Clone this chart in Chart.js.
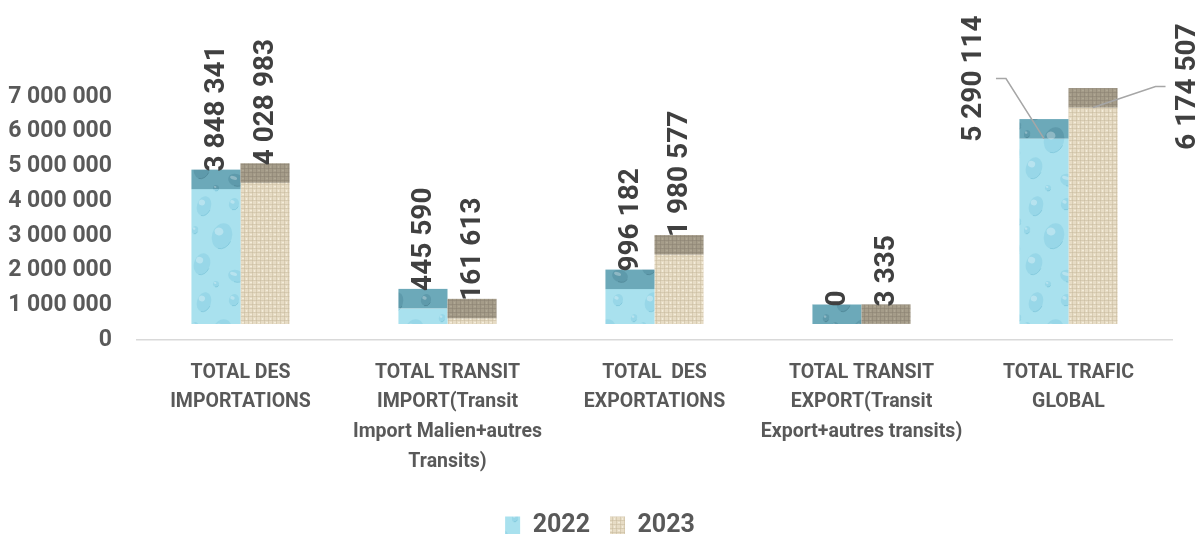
<!DOCTYPE html>
<html><head><meta charset="utf-8">
<script src="https://cdn.jsdelivr.net/npm/chart.js@4.4.0/dist/chart.umd.min.js"></script>
<style>html,body{margin:0;padding:0;background:#fff;}#wrap{width:1199px;height:534px;position:relative;}</style>
</head><body><div id="wrap"><canvas id="c"></canvas></div>
<script>
// ---- data ----
const categories = [
  ["TOTAL DES", "IMPORTATIONS"],
  ["TOTAL TRANSIT", "IMPORT(Transit", "Import Malien+autres", "Transits)"],
  ["TOTAL  DES", "EXPORTATIONS"],
  ["TOTAL TRANSIT", "EXPORT(Transit", "Export+autres transits)"],
  ["TOTAL TRAFIC", "GLOBAL"]
];
const seriesNames = ["2022", "2023"];
const values2022 = [3848341, 445590, 996182, 0, 5290114];
const values2023 = [4028983, 161613, 1980577, 3335, 6174507];
const yTickValues = [0, 1000000, 2000000, 3000000, 4000000, 5000000, 6000000, 7000000];

function fmt(n){ return String(n).replace(/\B(?=(\d{3})+(?!\d))/g, ' '); }

// ---- textures ----
function waterPattern(dark){
  const c = document.createElement('canvas'); c.width = 64; c.height = 96;
  const g = c.getContext('2d');
  g.fillStyle = dark ? '#6ca9b9' : '#a9e1ee'; g.fillRect(0,0,64,96);
  const drops = [[12,14,7,10],[42,12,5,6],[30,44,10,13],[54,58,6,8],[10,72,8,11],[44,84,8,6],[24,92,3,3],[58,30,3,4],[3,38,3,4]];
  drops.forEach(d => {
    g.beginPath(); g.ellipse(d[0],d[1],d[2],d[3],0.3,0,Math.PI*2);
    g.fillStyle = dark ? 'rgba(80,140,158,0.5)' : 'rgba(130,205,225,0.45)'; g.fill();
    g.beginPath(); g.ellipse(d[0]-d[2]*0.3,d[1]-d[3]*0.35,d[2]*0.45,d[3]*0.3,0.3,0,Math.PI*2);
    g.fillStyle = 'rgba(255,255,255,0.3)'; g.fill();
    g.beginPath(); g.ellipse(d[0],d[1],d[2],d[3],0.3,0.2,1.6);
    g.strokeStyle = dark ? 'rgba(60,110,125,0.4)' : 'rgba(100,180,205,0.4)'; g.lineWidth = 1; g.stroke();
  });
  return g.createPattern(c,'repeat');
}
function burlapPattern(dark){
  const c = document.createElement('canvas'); c.width = 24; c.height = 24;
  const g = c.getContext('2d');
  g.fillStyle = dark ? '#a59c89' : '#e7dcc5'; g.fillRect(0,0,24,24);
  g.strokeStyle = dark ? 'rgba(135,126,110,0.45)' : 'rgba(195,181,152,0.45)'; g.lineWidth = 1;
  for (let i = 0; i < 24; i += 4){
    g.beginPath(); g.moveTo(i+0.5,0); g.lineTo(i+0.5,24); g.stroke();
    g.beginPath(); g.moveTo(0,i+0.5); g.lineTo(24,i+0.5); g.stroke();
  }
  g.fillStyle = dark ? 'rgba(200,192,175,0.3)' : 'rgba(255,252,240,0.5)';
  for (let i = 2; i < 24; i += 8){ for (let j = 2; j < 24; j += 8){ g.fillRect(i,j,2,1); g.fillRect(i+4,j+4,1,2); } }
  return g.createPattern(c,'repeat');
}
const frontFill = [waterPattern(false), burlapPattern(false)];
const topFill = [waterPattern(true), burlapPattern(true)];

// ---- plugin: 3D-like top faces, value labels, legend placement ----
const BAND = 19.5;
const LEGEND_PAD = 20;
const callouts = { 4: [ {dx:-70, dy:-60, side:-1}, {dx:94.5, dy:-21, side:1} ] };
const topFacePlugin = {
  id: 'topFace',
  afterLayout(chart){
    const lg = chart.legend;
    if (!lg) return;
    const dy = 526 - (lg.top + LEGEND_PAD + 13);
    lg.top += dy; lg.bottom += dy;
    lg.left += 14; lg.right += 14;
  },
  afterDatasetsDraw(chart){
    const ctx = chart.ctx;
    const metas = chart.data.datasets.map((d,i)=>chart.getDatasetMeta(i));
    metas.forEach((meta, di) => {
      meta.data.forEach(bar => {
        const w = bar.width;
        ctx.fillStyle = topFill[di];
        ctx.fillRect(bar.x - w/2, bar.y - BAND, w, BAND);
      });
    });
    ctx.save();
    ctx.font = 'bold 28px Roboto';
    ctx.fillStyle = '#404040';
    metas.forEach((meta, di) => {
      const vals = chart.data.datasets[di].data;
      meta.data.forEach((bar, i) => {
        const txt = fmt(vals[i]);
        const co = callouts[i] && callouts[i][di];
        if (co){
          const lx = bar.x + co.dx, ly = bar.y + co.dy;
          ctx.save();
          ctx.strokeStyle = '#a6a6a6'; ctx.lineWidth = 1.5;
          ctx.beginPath();
          ctx.moveTo(lx - co.side*22, ly);
          ctx.lineTo(lx - co.side*32, ly);
          ctx.lineTo(bar.x, bar.y);
          ctx.stroke();
          ctx.translate(lx, ly); ctx.rotate(-Math.PI/2);
          ctx.textAlign = 'center'; ctx.textBaseline = 'middle';
          ctx.fillText(txt, 0, 0);
          ctx.restore();
        } else {
          ctx.save();
          ctx.translate(bar.x + 1, bar.y - BAND + 2); ctx.rotate(-Math.PI/2);
          ctx.textAlign = 'left'; ctx.textBaseline = 'middle';
          ctx.fillText(txt, 0, 0);
          ctx.restore();
        }
      });
    });
    ctx.restore();
  }
};

Chart.defaults.font.family = 'Roboto';
new Chart(document.getElementById('c'), {
  type: 'bar',
  data: {
    labels: categories,
    datasets: [
      { label: seriesNames[0], data: values2022, backgroundColor: frontFill[0], borderWidth: 0, yAxisID: 'y2' },
      { label: seriesNames[1], data: values2023, backgroundColor: frontFill[1], borderWidth: 0, yAxisID: 'y2' }
    ]
  },
  options: {
    responsive: true, maintainAspectRatio: false, animation: false, devicePixelRatio: 1,
    barPercentage: 1.0, categoryPercentage: 0.474,
    layout: { padding: { left: 0, right: 27, top: 97, bottom: 0 } },
    scales: {
      y: {
        position: 'left', min: 0, max: 7000000,
        afterBuildTicks: s => { s.ticks = yTickValues.map(v => ({ value: v })); },
        afterFit: s => { s.width = 137; },
        ticks: { callback: v => fmt(v), color: '#595959', font: { size: 23, weight: 'bold' }, padding: 25 },
        grid: { display: false, drawTicks: false }, border: { display: false }
      },
      y2: { display: false, min: -456500, max: 6476500 },
      x: {
        afterFit: s => { const lh = s.chart.legend ? s.chart.legend.height : 0; s.height = 534 - 340 - lh; },
        grid: { display: false, drawTicks: false },
        border: { display: true, color: '#d9d9d9', width: 1.5 },
        ticks: { color: '#595959', font: { size: 19.5, weight: 'bold', lineHeight: 1.52 }, padding: 18, maxRotation: 0, autoSkip: false }
      }
    },
    plugins: {
      legend: { position: 'bottom', labels: { boxWidth: 15, boxHeight: 18, padding: LEGEND_PAD, color: '#595959', font: { size: 25, weight: 'bold' } } },
      tooltip: { enabled: false },
      title: { display: false }
    }
  },
  plugins: [topFacePlugin]
});
</script></body></html>
